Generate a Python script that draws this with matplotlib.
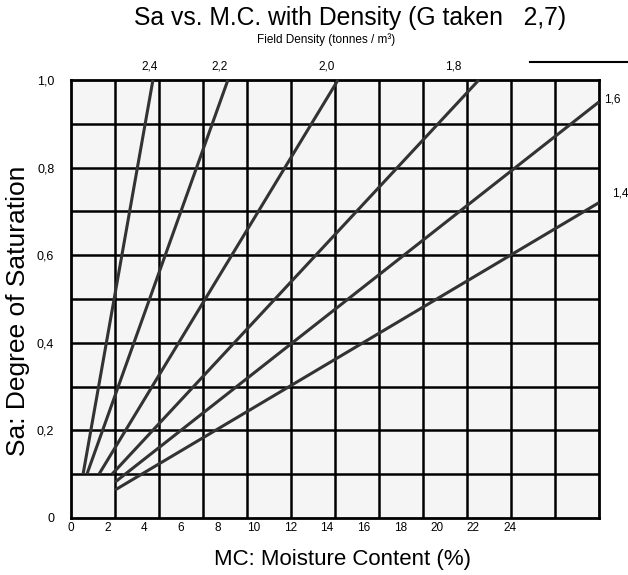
import numpy as np
import matplotlib
matplotlib.use("Agg")
import matplotlib.pyplot as plt

plt.rcParams['font.family'] = ['Liberation Sans', 'DejaVu Sans']

# data (MC in %, Sa as fraction)
densities = ["2,4", "2,2", "2,0", "1,8", "1,6", "1,4"]
mc_start = [0.66, 0.87, 1.53, 2.24, 2.41, 2.41]
sa_start = [0.10, 0.10, 0.10, 0.10, 0.082, 0.064]
mc_end = [4.48, 8.58, 14.6, 22.3, 28.87, 28.87]
sa_end = [1.0, 1.0, 1.0, 1.0, 0.95, 0.72]

x_ticks = [0, 2, 4, 6, 8, 10, 12, 14, 16, 18, 20, 22, 24]
y_ticks = [0, 0.2, 0.4, 0.6, 0.8, 1.0]
y_ticklabels = ["0", "0,2", "0,4", "0,6", "0,8", "1,0"]

xmax = 28.87

fig = plt.figure(figsize=(6.28, 5.75), dpi=100)
ax = fig.add_axes([71/628, 1-518/575, 528/628, 438/575])
ax.set_facecolor("#f5f5f5")
ax.set_xlim(0, xmax)
ax.set_ylim(0, 1.0)

# grid: 12 columns, 10 rows
for i in range(1, 12):
    ax.axvline(i*xmax/12, color="black", lw=1.8, zorder=1)
for j in range(1, 10):
    ax.axhline(j/10, color="black", lw=1.8, zorder=1)
for s in ax.spines.values():
    s.set_linewidth(2)
    s.set_color("black")

for i in range(len(densities)):
    ax.plot([mc_start[i], mc_end[i]], [sa_start[i], sa_end[i]],
            color="#333333", lw=2.2, zorder=3, solid_capstyle="butt", clip_on=False)

# density labels
top_x = [150, 220, 327, 453]
for i in range(4):
    fig.text(top_x[i]/628, 1-67/575, densities[i], fontsize=8.5, ha="center", va="center")
fig.text(604/628, 1-100/575, densities[4], fontsize=8.5, ha="left", va="center")
fig.text(612/628, 1-193/575, densities[5], fontsize=8.5, ha="left", va="center")

ax.set_xticks(x_ticks)
ax.set_xticklabels([str(v) for v in x_ticks], fontsize=8.5)
ax.set_yticks(y_ticks)
ax.set_yticklabels(y_ticklabels, fontsize=9)
ax.tick_params(axis="both", length=0)
ax.tick_params(axis="x", pad=3)
ax.tick_params(axis="y", pad=12)

fig.text(350/628, 1-18/575, "Sa vs. M.C. with Density (G taken   2,7)",
         fontsize=17.8, ha="center", va="center")
fig.text(326/628, 1-40/575, "Field Density (tonnes / m\u00b3)",
         fontsize=8.5, ha="center", va="center")
fig.text(342/628, 1-560/575, "MC: Moisture Content (%)", fontsize=16,
         ha="center", va="center")
fig.text(18/628, 1-311/575, "Sa: Degree of Saturation", fontsize=19,
         ha="center", va="center", rotation=90)

fig.add_artist(plt.Line2D([530/628, 1.0], [1-62/575, 1-62/575], color="black", lw=1.5))

fig.savefig("out.png", dpi=100)
